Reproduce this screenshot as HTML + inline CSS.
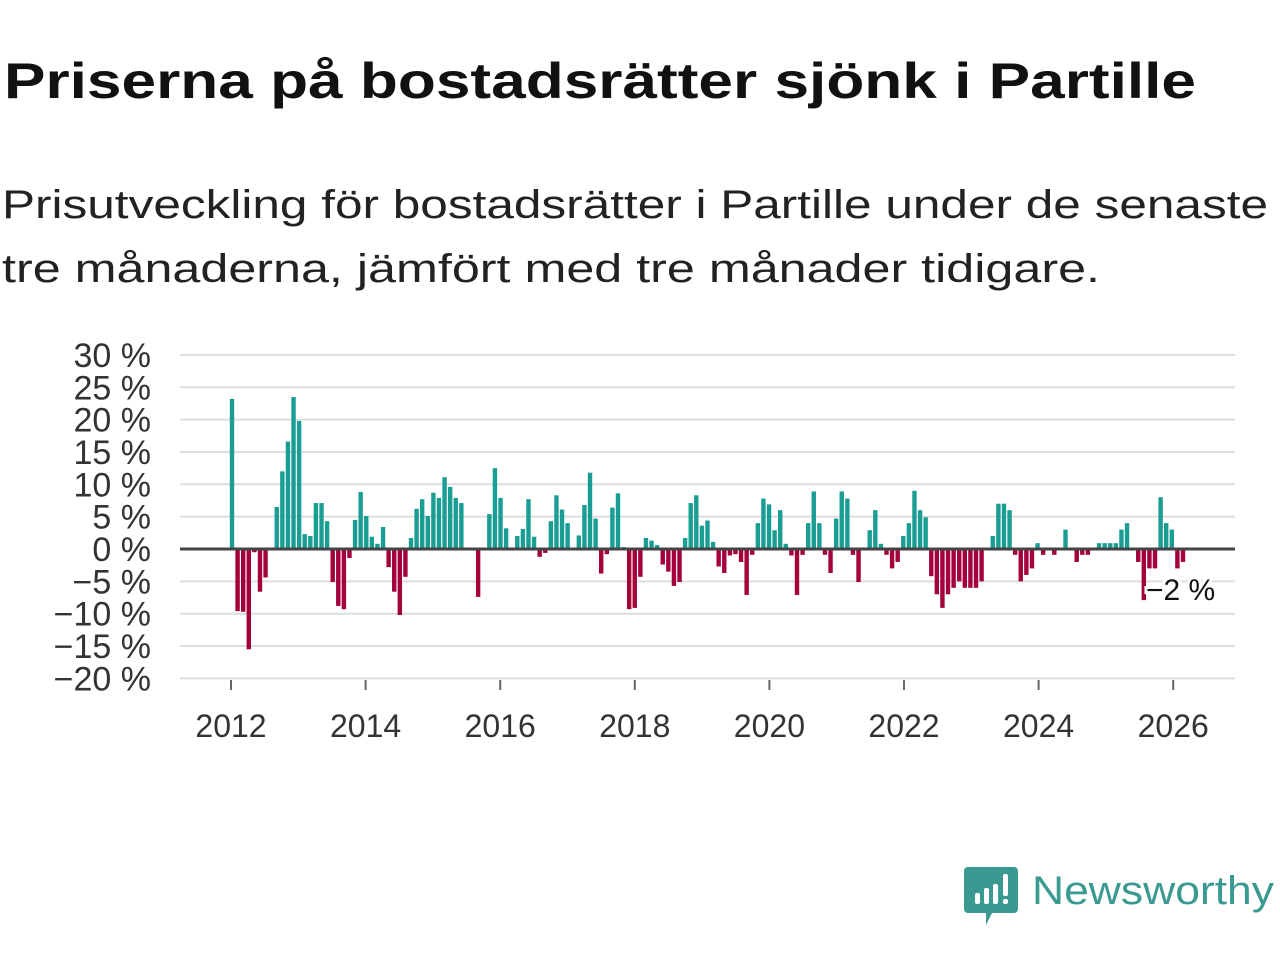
<!DOCTYPE html>
<html><head><meta charset="utf-8"><style>
body{margin:0;background:#fff;width:1280px;height:960px;overflow:hidden}
svg{display:block;font-family:"Liberation Sans",sans-serif}
</style></head><body>
<svg id="chart" width="1280" height="960">
<text x="4" y="98" font-size="50" font-weight="bold" fill="#111" textLength="1192" lengthAdjust="spacingAndGlyphs">Priserna på bostadsrätter sjönk i Partille</text>
<text x="2" y="218" font-size="40" fill="#222" textLength="1266" lengthAdjust="spacingAndGlyphs">Prisutveckling för bostadsrätter i Partille under de senaste</text>
<text x="2" y="282" font-size="40" fill="#222" textLength="1098" lengthAdjust="spacingAndGlyphs">tre månaderna, jämfört med tre månader tidigare.</text>
<g id="grid"></g>
<g id="ylabels"></g>
<g id="xlabels"></g>
<g id="bars"></g>
<line x1="180" x2="1235" y1="549" y2="549" stroke="#444" stroke-width="3"/>
<text x="1146" y="600" font-size="30" fill="#111" stroke="#fff" stroke-width="6" paint-order="stroke">−2 %</text>
<g>
<path d="M968 867 h46 a4 4 0 0 1 4 4 v38 a4 4 0 0 1 -4 4 h-22 l-6 12 v-12 h-18 a4 4 0 0 1 -4 -4 v-38 a4 4 0 0 1 4 -4z" fill="#3a9a92"/>
<rect x="975" y="893" width="5" height="11" rx="2" fill="#fff"/>
<rect x="984" y="888" width="5" height="16" rx="2" fill="#fff"/>
<rect x="993" y="884" width="5" height="20" rx="2" fill="#fff"/>
<rect x="1003" y="874" width="5" height="22" rx="2" fill="#fff"/>
<rect x="1003" y="899" width="5" height="5" rx="2" fill="#fff"/>
<text x="1032" y="904" font-size="40" fill="#3a9a92" textLength="242" lengthAdjust="spacingAndGlyphs">Newsworthy</text>
</g>
</svg>
<script>
const yTicks=[30,25,20,15,10,5,0,-5,-10,-15,-20];
const yTickLabels=["30 %","25 %","20 %","15 %","10 %","5 %","0 %","−5 %","−10 %","−15 %","−20 %"];
const xYears=[2012,2014,2016,2018,2020,2022,2024,2026];
const startYear=2012;
const changes=[23.2,-9.6,-9.7,-15.5,-0.5,-6.6,-4.4,0,6.5,12,16.6,23.5,19.8,2.3,2,7.1,7.1,4.3,-5.1,-8.8,-9.3,-1.4,4.5,8.8,5.1,1.9,0.8,3.4,-2.8,-6.6,-10.2,-4.3,1.7,6.2,7.7,5.1,8.7,7.9,11.1,9.6,7.9,7.1,0.2,0,-7.4,0,5.4,12.5,7.9,3.2,0,2,3.1,7.7,1.9,-1.2,-0.6,4.3,8.3,6.1,4.0,0,2.1,6.8,11.8,4.7,-3.8,-0.8,6.4,8.6,0.3,-9.3,-9.1,-4.3,1.7,1.3,0.6,-2.4,-3.5,-5.7,-5.1,1.7,7.1,8.3,3.6,4.4,1.1,-2.7,-3.7,-1,-0.8,-2,-7.1,-0.9,4.0,7.8,6.9,2.9,6.0,0.8,-1,-7.1,-0.9,4.0,8.9,4.0,-0.9,-3.7,4.7,8.9,7.8,-0.9,-5.1,0,2.9,6.0,0.8,-0.9,-3,-2,2,4.0,9.0,6.0,4.9,-4.2,-7.0,-9.1,-7,-6,-5,-6,-6,-6,-5,0,2,7.0,7.0,6.0,-0.9,-5,-4,-3,0.9,-0.9,0,-0.9,0,3,0,-2,-0.9,-0.9,0,0.9,0.9,0.9,0.9,3,4,0,-2,-7.9,-3,-3,8,4,3,-3,-2];
const NS="http://www.w3.org/2000/svg";
const y=v=>549-v*6.47;
const xm=i=>232+i*5.594;
const xy=yr=>231+(yr-startYear)*67.3;
const grid=document.getElementById('grid'),yl=document.getElementById('ylabels'),xl=document.getElementById('xlabels'),bars=document.getElementById('bars');
yTicks.forEach((t,i)=>{
 const l=document.createElementNS(NS,'line');
 l.setAttribute('x1',180);l.setAttribute('x2',1235);l.setAttribute('y1',y(t));l.setAttribute('y2',y(t));
 l.setAttribute('stroke','#ddd');l.setAttribute('stroke-width',2);
 
 
 grid.appendChild(l);
 const tx=document.createElementNS(NS,'text');
 tx.setAttribute('x',151);tx.setAttribute('y',y(t)+12);tx.setAttribute('text-anchor','end');
 tx.setAttribute('font-size',34);tx.setAttribute('fill','#333');tx.textContent=yTickLabels[i];
 
 
 yl.appendChild(tx);
});
xYears.forEach(yr=>{
 const tk=document.createElementNS(NS,'line');
 tk.setAttribute('x1',xy(yr));tk.setAttribute('x2',xy(yr));tk.setAttribute('y1',680);tk.setAttribute('y2',690);
 tk.setAttribute('stroke','#666');tk.setAttribute('stroke-width',2);
 
 
 xl.appendChild(tk);
 const tx=document.createElementNS(NS,'text');
 tx.setAttribute('x',xy(yr));tx.setAttribute('y',737);tx.setAttribute('text-anchor','middle');
 tx.setAttribute('font-size',32);tx.setAttribute('fill','#333');tx.textContent=yr;
 
 
 xl.appendChild(tx);
});
changes.forEach((v,i)=>{
 if(v===0)return;
 const r=document.createElementNS(NS,'rect');
 r.setAttribute('x',xm(i)-2.2);r.setAttribute('width',4.4);
 r.setAttribute('y',Math.min(y(v),549));r.setAttribute('height',Math.abs(y(v)-549));
 r.setAttribute('fill',v>0?'#1a9e94':'#a3003c');
 
 
 bars.appendChild(r);
});
</script>
</body></html>
